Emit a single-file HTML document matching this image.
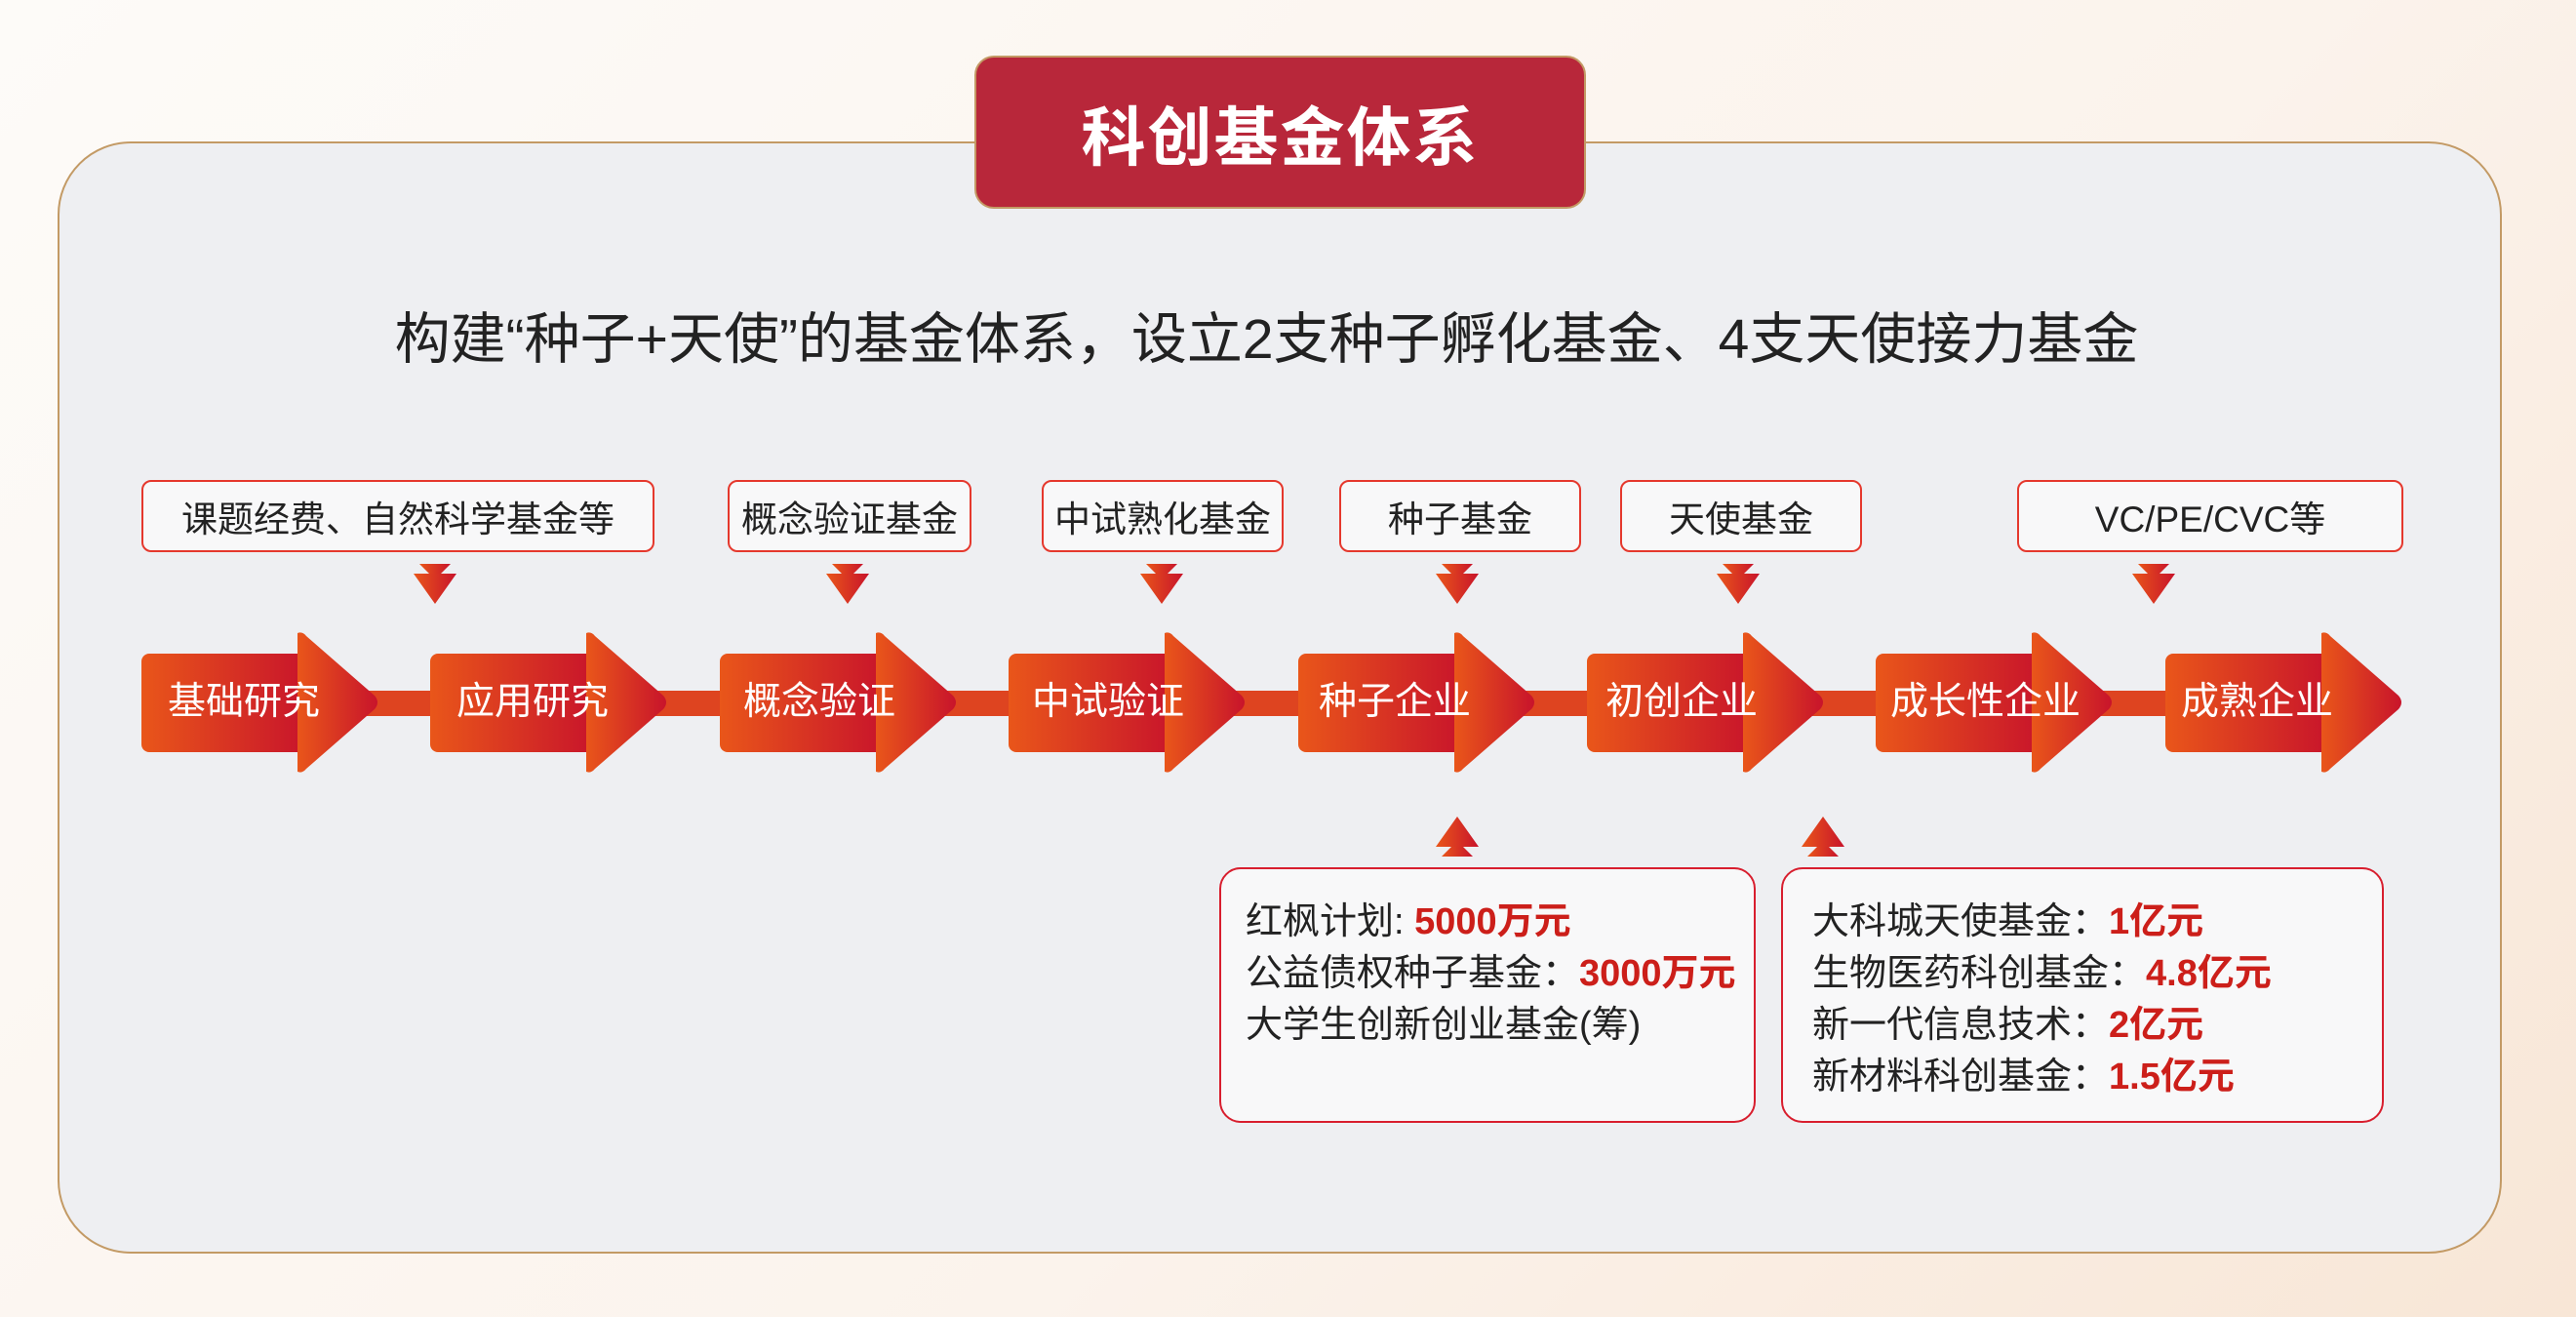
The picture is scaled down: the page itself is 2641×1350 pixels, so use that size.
<!DOCTYPE html>
<html><head><meta charset="utf-8"><style>
html,body{margin:0;padding:0}
body{width:2641px;height:1350px;position:relative;overflow:hidden;background:linear-gradient(135deg,#fdfbf8 0%,#fbf3ec 60%,#f8e6d6 100%);font-family:"Liberation Sans","Noto Sans CJK SC",sans-serif}
.abs{position:absolute}
.panel{left:59px;top:145px;width:2502px;height:1136px;border:2px solid #c39a65;border-radius:75px;background:#eeeff2}
.title{left:999px;top:57px;width:623px;height:153px;border:2px solid #c39a65;border-radius:20px;background:#b8273a;color:#fff;font-size:66px;font-weight:bold;display:flex;align-items:center;justify-content:center;letter-spacing:2px}
.sub{left:-22px;width:2641px;top:302px;text-align:center;font-size:57px;color:#222}
.lb{height:70px;border:2px solid #e5382d;border-radius:10px;background:#f8f8f9;font-size:37px;color:#222;display:flex;align-items:center;justify-content:center}
.at{color:#fff;font-size:39px;line-height:40px;top:700px}
.bb{border:2px solid #d81e2e;border-radius:22px;background:#f8f8f9;font-size:38px;color:#222;line-height:53px}
.bb b{color:#cc1f1a}
</style></head><body>
<div class="abs panel"></div>
<div class="abs title">科创基金体系</div>
<div class="abs sub">构建“种子+天使”的基金体系，设立2支种子孵化基金、4支天使接力基金</div>

<div class="abs lb" style="left:145px;top:492px;width:522px">课题经费、自然科学基金等</div>
<div class="abs lb" style="left:746px;top:492px;width:246px">概念验证基金</div>
<div class="abs lb" style="left:1068px;top:492px;width:244px">中试熟化基金</div>
<div class="abs lb" style="left:1373px;top:492px;width:244px">种子基金</div>
<div class="abs lb" style="left:1661px;top:492px;width:244px">天使基金</div>
<div class="abs lb" style="left:2068px;top:492px;width:392px">VC/PE/CVC等</div>

<svg class="abs" style="left:0;top:0" width="2641" height="1350">
<defs>
<linearGradient id="g" x1="0" x2="1" y1="0" y2="0"><stop offset="0" stop-color="#e9561a"/><stop offset="1" stop-color="#c8142b"/></linearGradient>
<g id="d"><polygon points="-16,578 16,578 0,594"/><polygon points="-22,588 22,588 0,619"/></g>
<g id="a"><rect x="145" y="670" width="170" height="101" rx="8"/><path d="M305 649 Q310 647 314 652 L384 713 Q390 720 384 727 L314 788 Q310 793 305 791 Z"/></g>
</defs>
<rect x="250" y="708" width="2040" height="26" fill="#de4420"/>
<g fill="url(#g)">
<use href="#a"/>
<use href="#a" x="296"/><use href="#a" x="593"/><use href="#a" x="889"/><use href="#a" x="1186"/><use href="#a" x="1482"/><use href="#a" x="1778"/><use href="#a" x="2075"/>
<use href="#d" x="446"/><use href="#d" x="869"/><use href="#d" x="1191"/><use href="#d" x="1494"/><use href="#d" x="1782"/><use href="#d" x="2208"/>
<g transform="translate(1494,1456) scale(1,-1)"><use href="#d"/></g>
<g transform="translate(1869,1456) scale(1,-1)"><use href="#d"/></g>
</g>
</svg>

<div class="abs at" style="left:172px">基础研究</div>
<div class="abs at" style="left:468px">应用研究</div>
<div class="abs at" style="left:762px">概念验证</div>
<div class="abs at" style="left:1058px">中试验证</div>
<div class="abs at" style="left:1352px">种子企业</div>
<div class="abs at" style="left:1646px">初创企业</div>
<div class="abs at" style="left:1938px">成长性企业</div>
<div class="abs at" style="left:2236px">成熟企业</div>

<div class="abs bb" style="left:1250px;top:889px;width:550px;height:262px;box-sizing:border-box">
<div style="position:absolute;left:25px;top:28px;white-space:nowrap">红枫计划: <b>5000万元</b><br>公益债权种子基金：<b>3000万元</b><br>大学生创新创业基金(筹)</div></div>
<div class="abs bb" style="left:1826px;top:889px;width:618px;height:262px;box-sizing:border-box">
<div style="position:absolute;left:30px;top:28px;white-space:nowrap">大科城天使基金：<b>1亿元</b><br>生物医药科创基金：<b>4.8亿元</b><br>新一代信息技术：<b>2亿元</b><br>新材料科创基金：<b>1.5亿元</b></div></div>
</body></html>
